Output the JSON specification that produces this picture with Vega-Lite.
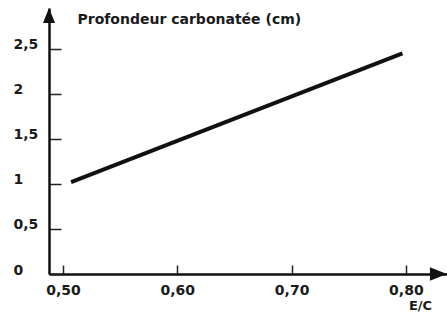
{
  "$schema": "https://vega.github.io/schema/vega-lite/v6.json",
  "width": 398,
  "height": 266,
  "autosize": {"type": "none"},
  "padding": {"left": 49, "top": 8, "right": 0, "bottom": 38},
  "background": "white",
  "config": {
    "view": {"stroke": null},
    "font": "DejaVu Sans",
    "axis": {
      "grid": false,
      "domainColor": "#111111",
      "domainWidth": 2.5,
      "tickColor": "#222222",
      "tickWidth": 1.5,
      "labelFont": "DejaVu Sans",
      "labelFontSize": 14,
      "labelFontWeight": "bold",
      "labelColor": "#1a1a1a",
      "titleFont": "DejaVu Sans",
      "titleFontSize": 14,
      "titleFontWeight": "bold",
      "titleColor": "#1a1a1a"
    }
  },
  "layer": [
    {
      "data": {"values": [
        {"ec": 0.507, "prof": 1.02},
        {"ec": 0.797, "prof": 2.45}
      ]},
      "mark": {"type": "line", "color": "#111111", "strokeWidth": 4, "strokeCap": "butt"},
      "encoding": {
        "x": {
          "field": "ec", "type": "quantitative",
          "scale": {"domain": [0.4877, 0.836], "nice": false, "zero": false},
          "axis": {
            "values": [0.5, 0.6, 0.7, 0.8],
            "labelExpr": "replace(format(datum.value, '.2f'), '.', ',')",
            "tickSize": -9,
            "labelPadding": 18,
            "labelBaseline": "top",
            "labelFlush": false,
            "title": "E/C",
            "titleFontSize": 13,
            "titleX": 371,
            "titleY": 35.5,
            "titleAlign": "center",
            "titleBaseline": "alphabetic"
          }
        },
        "y": {
          "field": "prof", "type": "quantitative",
          "scale": {"domain": [0, 2.955], "nice": false, "zero": false},
          "axis": {
            "values": [0, 0.5, 1, 1.5, 2, 2.5],
            "labelExpr": "replace(toString(datum.value), '.', ',')",
            "tickSize": -12,
            "labelPadding": 48,
            "labelAlign": "left",
            "labelBaseline": "middle",
            "labelOffset": -4,
            "labelFlush": false,
            "title": "Profondeur carbonatée (cm)",
            "titleAngle": 0,
            "titleX": 28,
            "titleY": 15,
            "titleAlign": "left",
            "titleBaseline": "alphabetic"
          }
        }
      }
    },
    {
      "data": {"values": [
        {"ec": 0.4877, "prof": 2.872, "dir": "up"},
        {"ec": 0.8285, "prof": 0, "dir": "right"}
      ]},
      "transform": [{"filter": "datum.dir === 'up'"}],
      "mark": {"type": "point", "filled": true, "color": "#111111", "opacity": 1, "shape": "M0,-1L0.8,1L-0.8,1Z", "size": 225},
      "encoding": {
        "x": {"field": "ec", "type": "quantitative"},
        "y": {"field": "prof", "type": "quantitative"}
      }
    },
    {
      "data": {"values": [
        {"ec": 0.4877, "prof": 2.872, "dir": "up"},
        {"ec": 0.8285, "prof": 0, "dir": "right"}
      ]},
      "transform": [{"filter": "datum.dir === 'right'"}],
      "mark": {"type": "point", "filled": true, "color": "#111111", "opacity": 1, "shape": "M1,0L-1,0.8L-1,-0.8Z", "size": 289},
      "encoding": {
        "x": {"field": "ec", "type": "quantitative"},
        "y": {"field": "prof", "type": "quantitative"}
      }
    }
  ]
}
